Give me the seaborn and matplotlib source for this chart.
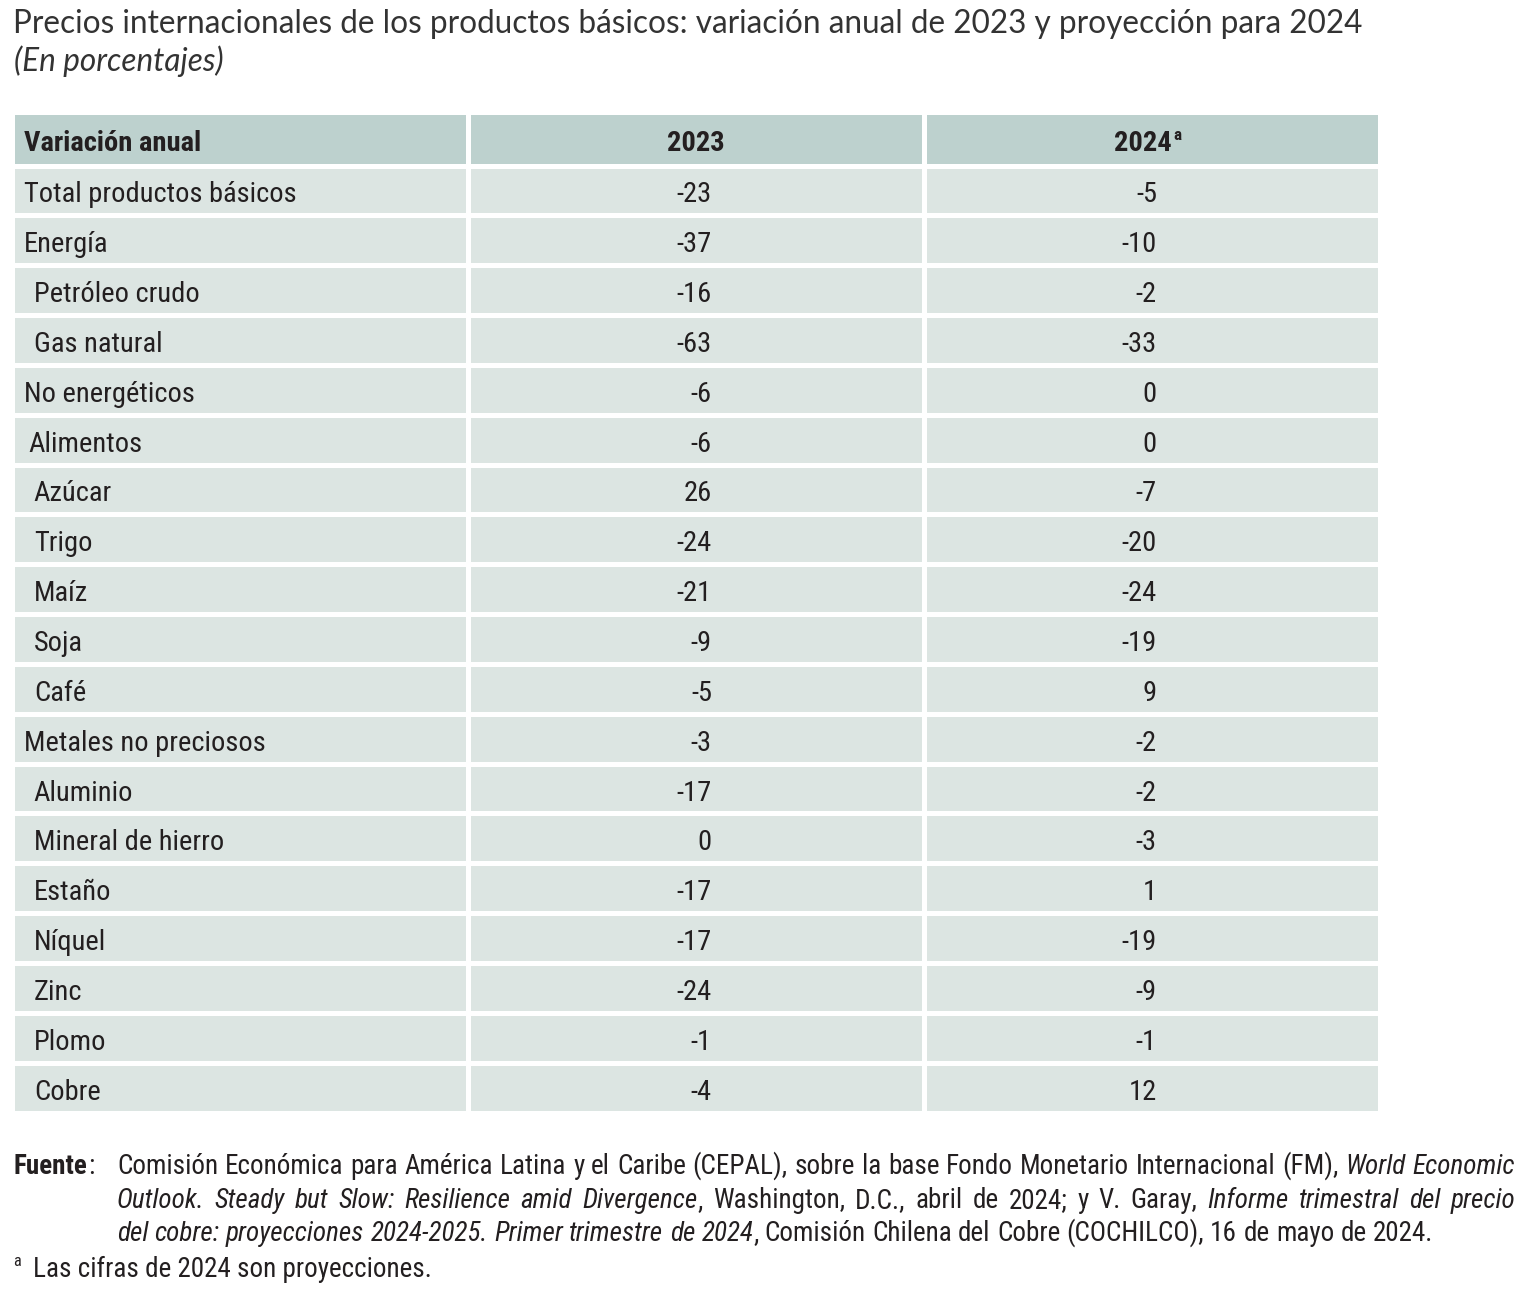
import matplotlib
matplotlib.use('Agg')
import numpy as np
import pandas as pd
import matplotlib.pyplot as plt
import seaborn as sns
from matplotlib import font_manager
from matplotlib.colors import ListedColormap
import matplotlib.transforms as mtransforms

# ------------------ Datos ------------------
titulo = 'Precios internacionales de los productos básicos: variación anual de 2023 y proyección para 2024'
subtitulo = '(En porcentajes)'
encabezado = ['Variación anual', '2023', '2024']
productos = ['Total productos básicos', 'Energía', 'Petróleo crudo', 'Gas natural',
             'No energéticos', 'Alimentos', 'Azúcar', 'Trigo', 'Maíz', 'Soja', 'Café',
             'Metales no preciosos', 'Aluminio', 'Mineral de hierro', 'Estaño', 'Níquel',
             'Zinc', 'Plomo', 'Cobre']
nivel = [0, 0, 1, 1, 0, 0.5, 1, 1, 1, 1, 1, 0, 1, 1, 1, 1, 1, 1, 1]
var_2023 = [-23, -37, -16, -63, -6, -6, 26, -24, -21, -9, -5, -3, -17, 0, -17, -17, -24, -1, -4]
var_2024 = [-5, -10, -2, -33, 0, 0, -7, -20, -24, -19, 9, -2, -2, -3, 1, -19, -9, -1, 12]

fuente = [
    [('Comisión Económica para América Latina y el Caribe (CEPAL), sobre la base Fondo Monetario Internacional (FM),', 'normal'),
     ('World Economic', 'italic')],
    [('Outlook. Steady but Slow: Resilience amid Divergence', 'italic'),
     (', Washington, D.C., abril de 2024; y V. Garay,', 'normal'),
     ('Informe trimestral del precio', 'italic')],
    [('del cobre: proyecciones 2024-2025. Primer trimestre de 2024', 'italic'),
     (', Comisión Chilena del Cobre (COCHILCO), 16 de mayo de 2024.', 'normal')],
]
nota = 'Las cifras de 2024 son proyecciones.'

tabla = pd.DataFrame({'producto': productos, '2023': var_2023, '2024': var_2024})

# ------------------ Estilo ------------------
sns.set_theme(style='white')
disponibles = {f.name for f in font_manager.fontManager.ttflist}
estrecha = 'Roboto'
for cand in ['Roboto Condensed', 'Liberation Sans Narrow', 'DejaVu Sans Condensed']:
    if cand in disponibles:
        estrecha = cand
        break
fam_titulo = 'Lato' if 'Lato' in disponibles else 'DejaVu Sans'
plt.rcParams['font.family'] = [estrecha, 'DejaVu Sans']

color_txt = '#231f20'
color_cab = '#bdd1ce'
color_cuerpo = '#dce5e2'

W, H = 1531, 1306
fig = plt.figure(figsize=(W / 100, H / 100), dpi=100)
fig.patch.set_facecolor('white')
r = fig.canvas.get_renderer()


def fx(x):
    return x / W


def fy(y):
    return 1 - y / H


def ancho(t):
    return t.get_window_extent(r).width


def ajustar(t, objetivo):
    t.set_fontsize(t.get_fontsize() * objetivo / ancho(t))


# ------------------ Tabla ------------------
izq, der = 11.5, 1379.5
cab_arr, cab_ab, abajo = 111.5, 165.5, 1112.5
ax_cab = fig.add_axes([fx(izq), fy(cab_ab), (der - izq) / W, (cab_ab - cab_arr) / H])
ax = fig.add_axes([fx(izq), fy(abajo), (der - izq) / W, (abajo - cab_ab) / H])

sns.heatmap(np.ones((1, 3)), cmap=ListedColormap([color_cab]), cbar=False,
            linewidths=2.2, linecolor='white', xticklabels=False, yticklabels=False, ax=ax_cab)
sns.heatmap(np.zeros((len(productos), 3)), cmap=ListedColormap([color_cuerpo]), cbar=False,
            linewidths=2.2, linecolor='white', xticklabels=False, yticklabels=False, ax=ax)
for a in (ax, ax_cab):
    a.set_xlabel('')
    a.set_ylabel('')

fs = 20.5
dy = 0.09
ax_cab.text(0.027, 0.5 + dy, encabezado[0], fontsize=fs, fontweight='bold', color=color_txt,
            ha='left', va='center')
ax_cab.text(1.501, 0.5 + dy, encabezado[1], fontsize=fs, fontweight='bold', color=color_txt,
            ha='center', va='center')
ax_cab.text(2.545, 0.5 + dy, encabezado[2], fontsize=fs, fontweight='bold', color=color_txt,
            ha='right', va='center')
sup = mtransforms.offset_copy(ax_cab.transData, fig=fig, x=1, y=6, units='points')
ax_cab.text(2.545, 0.5 + dy, 'a', fontsize=fs * 0.6, fontweight='bold', color=color_txt,
            ha='left', va='center', transform=sup)

sangria = {0: 0.027, 0.5: 0.036, 1: 0.049}
for i, fila in tabla.iterrows():
    y = i + 0.5 + dy
    ax.text(sangria[nivel[i]], y, fila['producto'], fontsize=fs, color=color_txt,
            ha='left', va='center')
    ax.text(1.536, y, str(fila['2023']), fontsize=fs, color=color_txt, ha='right', va='center')
    ax.text(2.512, y, str(fila['2024']), fontsize=fs, color=color_txt, ha='right', va='center')

# ------------------ Título ------------------
tt = fig.text(fx(13), fy(33), titulo, fontsize=21, family=[fam_titulo, 'DejaVu Sans'],
              fontweight='normal', color='#333333', va='baseline', ha='left')
ajustar(tt, 1347)
fig.text(fx(14), fy(71), subtitulo, fontsize=tt.get_fontsize(), family=[fam_titulo, 'DejaVu Sans'],
         fontweight='normal', style='italic', color='#333333', va='baseline', ha='left')


# ------------------ Fuente ------------------
def palabras(partes):
    out = []
    for txt, estilo in partes:
        for w in txt.split(' '):
            if w:
                out.append((w, estilo))
    return out


def espacio(size, style):
    a = fig.text(0, 0, 'x x', fontsize=size, style=style)
    b = fig.text(0, 0, 'xx', fontsize=size, style=style)
    w = ancho(a) - ancho(b)
    a.remove()
    b.remove()
    return w


def linea(x0, y, partes, size, justo=None):
    ws = palabras(partes)
    textos = [fig.text(0, fy(y), w, fontsize=size, style=estilo, color=color_txt,
                       va='baseline', ha='left') for w, estilo in ws]
    anchos = [ancho(t) for t in textos]
    # la coma inicial va pegada a la palabra previa
    pegada = [k > 0 and w.startswith(',') for k, (w, _) in enumerate(ws)]
    n_gaps = len(ws) - 1 - sum(pegada)
    if justo is None:
        gap = espacio(size, 'normal')
    else:
        gap = (justo - x0 - sum(anchos)) / n_gaps
    x = x0
    for k, (t, a) in enumerate(zip(textos, anchos)):
        if k > 0:
            x += 0 if pegada[k] else gap
        t.set_x(fx(x))
        x += a


fs_f = 18
prueba = fig.text(0, 0, ' '.join(s for s, _ in fuente[0]), fontsize=fs_f)
ajustar(prueba, 1392)
fs_f = prueba.get_fontsize()
prueba.remove()

base = [1174, 1208, 1241]
tf = fig.text(fx(13), fy(base[0]), 'Fuente', fontsize=fs_f, fontweight='bold',
              color=color_txt, va='baseline', ha='left')
fig.text(fx(13) + ancho(tf) / W + 0.001, fy(base[0]), ':', fontsize=fs_f, color=color_txt,
         va='baseline', ha='left')
linea(117, base[0], fuente[0], fs_f, justo=1515)
linea(117, base[1], fuente[1], fs_f, justo=1515)
linea(117, base[2], fuente[2], fs_f)

fig.text(fx(13), fy(1266), 'a', fontsize=fs_f * 0.6, color=color_txt, va='baseline', ha='left')
fig.text(fx(33), fy(1277), nota, fontsize=fs_f, color=color_txt, va='baseline', ha='left')

plt.savefig('out.png', dpi=100, facecolor='white')
